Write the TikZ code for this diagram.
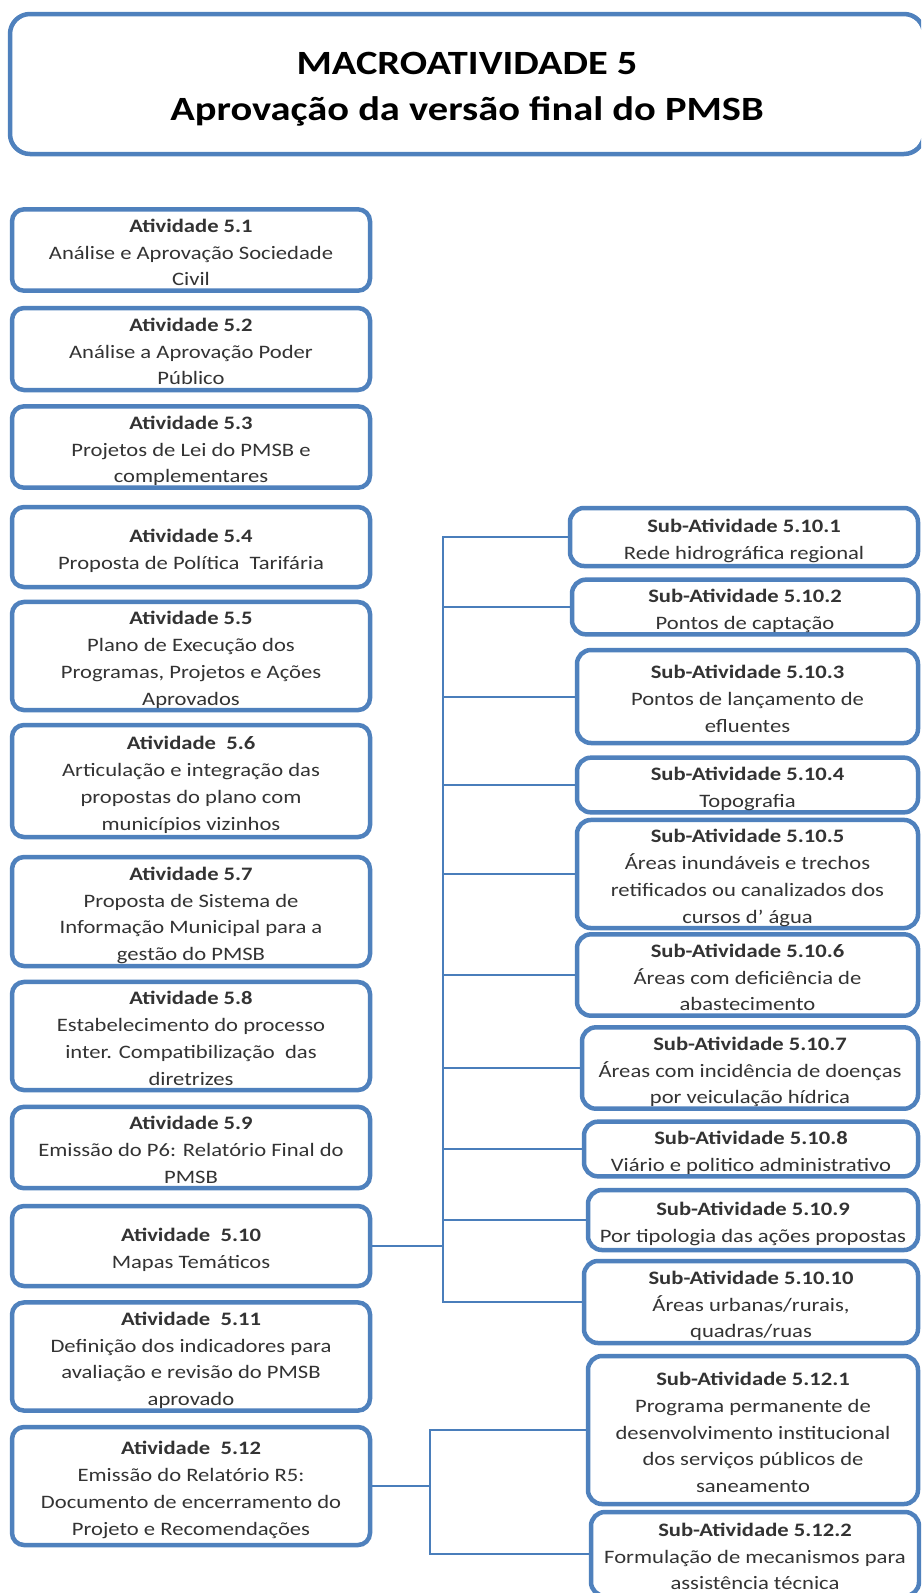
\documentclass[tikz,border=0pt]{standalone}
\usepackage{fontspec}
\setmainfont[FakeStretch=1.19]{Carlito}
\usetikzlibrary{positioning}
\definecolor{boxblue}{RGB}{79,129,189}
\definecolor{lineblue}{RGB}{74,126,187}
\newcommand{\titulo}[1]{\rule{0pt}{23pt}\textbf{#1}}
\tikzset{
    ativ/.style={
        rectangle,
        rounded corners=12pt,
        draw=boxblue,
        line width=4.5pt,
        fill=white,
        align=center,
        inner sep=0pt,
        text=black!80,
        execute at end node={\rule[-5pt]{0pt}{5pt}},
        minimum width=358pt,
        font=\fontsize{19}{26.7}\selectfont
    },
    subativ/.style={ativ, rounded corners=14pt},
    macro/.style={ativ, rounded corners=20pt, text=black,
        font=\fontsize{34}{46}\selectfont\bfseries},
    link/.style={draw=lineblue, line width=2pt}
}

\begin{document}
\begin{tikzpicture}[x=1pt, y=-1pt]
\clip (0,0) rectangle (921,1593);
\fill[white] (0,0) rectangle (921,1593);

\node[macro, minimum width=914pt, minimum height=140pt] (macro) at (467,84)
    {\rule{0pt}{32pt}MACROATIVIDADE 5\\Aprovação da versão final do PMSB};

% atividades
\node[ativ, minimum height=80pt] (a1) at (191,250)
    {\titulo{Atividade 5.1}\\Análise e Aprovação Sociedade\\Civil};
\node[ativ, minimum height=82pt] (a2) at (191,349)
    {\titulo{Atividade 5.2}\\Análise a Aprovação Poder\\Público};
\node[ativ, minimum height=80pt] (a3) at (191,447)
    {\titulo{Atividade 5.3}\\Projetos de Lei do PMSB e\\complementares};
\node[ativ, minimum height=80pt] (a4) at (191,547)
    {\titulo{Atividade 5.4}\\Proposta de Política~~Tarifária};
\node[ativ, minimum height=102pt] (a5) at (191,656)
    {\titulo{Atividade 5.5}\\Plano de Execução dos\\Programas, Projetos e Ações\\Aprovados};
\node[ativ, minimum height=112pt] (a6) at (191,781)
    {\titulo{Atividade~~5.6}\\Articulação e integração das\\propostas do plano com\\municípios vizinhos};
\node[ativ, minimum height=109pt] (a7) at (191,911.5)
    {\titulo{Atividade 5.7}\\Proposta de Sistema de\\Informação Municipal para a\\gestão do PMSB};
\node[ativ, minimum height=104pt] (a8) at (191,1036)
    {\titulo{Atividade 5.8}\\Estabelecimento do processo\\inter. Compatibilização~~das\\diretrizes};
\node[ativ, minimum height=81pt] (a9) at (191,1147.5)
    {\titulo{Atividade 5.9}\\Emissão do P6: Relatório Final do\\PMSB};
\node[ativ, minimum height=80pt] (a10) at (191,1246)
    {\titulo{Atividade~~5.10}\\Mapas Temáticos};
\node[ativ, minimum height=107pt] (a11) at (191,1356.5)
    {\titulo{Atividade~~5.11}\\Definição dos indicadores para\\avaliação e revisão do PMSB\\aprovado};
\node[ativ, minimum height=118pt] (a12) at (191,1486)
    {\titulo{Atividade~~5.12}\\Emissão do Relatório R5:\\Documento de encerramento do\\Projeto e Recomendações};

% sub-atividades
\node[subativ, minimum width=348pt, minimum height=58pt] (s1) at (744,537)
    {\titulo{Sub-Atividade 5.10.1}\\Rede hidrográfica regional};
\node[subativ, minimum width=346pt, minimum height=54pt] (s2) at (745,607)
    {\titulo{Sub-Atividade 5.10.2}\\Pontos de captação};
\node[subativ, minimum width=341pt, minimum height=93pt] (s3) at (747.5,696.5)
    {\titulo{Sub-Atividade 5.10.3}\\Pontos de lançamento de\\efluentes};
\node[subativ, minimum width=341pt, minimum height=54pt] (s4) at (747.5,785)
    {\titulo{Sub-Atividade 5.10.4}\\Topografia};
\node[subativ, minimum width=341pt, minimum height=96pt] (s5) at (747.5,874)
    {\titulo{Sub-Atividade 5.10.5}\\Áreas inundáveis e trechos\\retificados ou canalizados dos\\cursos d’ água};
\node[subativ, minimum width=341pt, minimum height=78pt] (s6) at (747.5,975)
    {\titulo{Sub-Atividade 5.10.6}\\Áreas com deficiência de\\abastecimento};
\node[subativ, minimum width=336pt, minimum height=76pt] (s7) at (750,1068)
    {\titulo{Sub-Atividade 5.10.7}\\Áreas com incidência de doenças\\por veiculação hídrica};
\node[subativ, minimum width=334pt, minimum height=54pt] (s8) at (751,1149)
    {\titulo{Sub-Atividade 5.10.8}\\Viário e politico administrativo};
\node[subativ, minimum width=330pt, minimum height=60pt] (s9) at (753,1220)
    {\titulo{Sub-Atividade 5.10.9}\\Por tipologia das ações propostas};
\node[subativ, minimum width=334pt, minimum height=82pt] (s10) at (751,1302)
    {\titulo{Sub-Atividade 5.10.10}\\Áreas urbanas/rurais,\\quadras/ruas};
\node[subativ, minimum width=330pt, minimum height=148pt] (s121) at (753,1430)
    {\titulo{Sub-Atividade 5.12.1}\\Programa permanente de\\desenvolvimento institucional\\dos serviços públicos de\\saneamento};
\node[subativ, minimum width=328pt, minimum height=84pt] (s122) at (755,1554)
    {\titulo{Sub-Atividade 5.12.2}\\Formulação de mecanismos para\\assistência técnica};

\coordinate (t1) at (443,0);
\coordinate (t2) at (430,0);

\draw[link] (s1.west) -- (s1.west -| t1) |- (s10.west);
\foreach \i in {2,...,9}
    \draw[link] (s\i.west) -- (s\i.west -| t1);
\draw[link] (a10.east) -- (a10.east -| t1);

\draw[link] (s121.west) -- (s121.west -| t2) |- (s122.west);
\draw[link] (a12.east) -- (a12.east -| t2);

\end{tikzpicture}
\end{document}
